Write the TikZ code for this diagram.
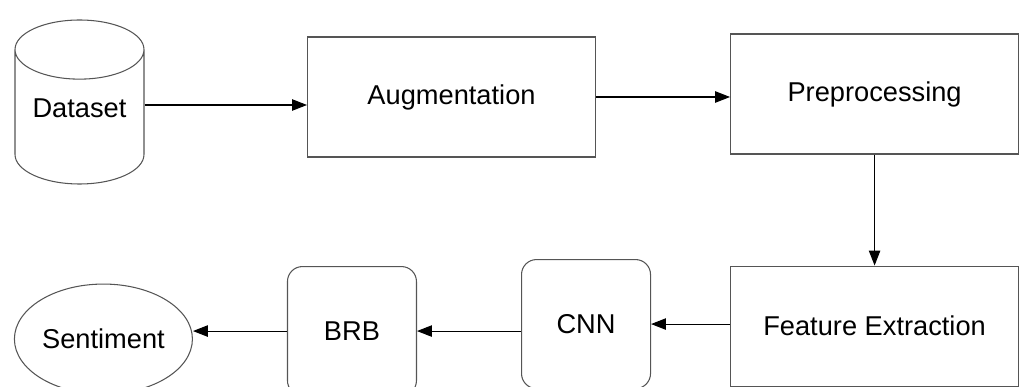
\documentclass[tikz,border=0pt]{standalone}
\usepackage{fontspec}
\setmainfont{Liberation Sans}
\usetikzlibrary{
	arrows.meta,
	positioning,
	shapes.geometric
}
\definecolor{borde}{RGB}{85,85,85}

\begin{document}
\begin{tikzpicture}[
  font=\fontsize{15.5}{18}\selectfont,
  paso/.style={rectangle, draw=borde, line width=0.6pt, align=center,
    minimum width=5.76cm, minimum height=2.4cm},
  bloque/.style={rectangle, draw=borde, line width=0.6pt, rounded corners=0.3cm,
    align=center, minimum width=2.58cm, minimum height=2.58cm},
  datos/.style={cylinder, shape border rotate=90, draw=borde, line width=0.6pt,
    aspect=0.56, minimum width=2.58cm, minimum height=3.28cm},
  salida/.style={ellipse, draw=borde, line width=0.6pt, inner sep=0pt,
    minimum width=3.56cm, minimum height=2.2cm},
  flecha/.style={-{Triangle[length=8.5pt, width=6.5pt]}, line width=0.6pt}
]
\useasboundingbox (0,0) rectangle (20.4,-7.74);
\clip (0,0) rectangle (20.4,-7.74);
\node[datos, anchor=shape center] (dataset) at (1.59,-2.04) {\raisebox{0.6cm}{Dataset}};
\node[paso, right=3.26cm of dataset.shape center, xshift=1.29cm, yshift=0.1cm] (augment) {Augmentation};
\node[paso, right=2.68cm of augment, yshift=0.06cm] (preproc) {Preprocessing};
\node[paso, below=2.22cm of preproc] (features) {Feature Extraction};
\node[bloque, left=1.58cm of features, yshift=0.04cm] (cnn) {CNN};
\node[bloque, left=2.08cm of cnn, yshift=-0.14cm] (brb) {BRB};
\node[salida, left=1.88cm of brb, yshift=-0.16cm] (sentiment) {Sentiment};
\draw[flecha] ([yshift=-0.06cm]dataset.shape center -| dataset.east) -- ([yshift=-0.06cm]dataset.shape center -| augment.west);
\draw[flecha] (augment.east) -- (augment.east -| preproc.west);
\draw[flecha] (preproc) -- (features);
\draw[flecha] (features.west |- cnn.east) -- (cnn.east);
\draw[flecha] (cnn.west |- brb.east) -- (brb.east);
\draw[flecha] (brb.west) -- (brb.west -| sentiment.east);
\end{tikzpicture}
\end{document}
